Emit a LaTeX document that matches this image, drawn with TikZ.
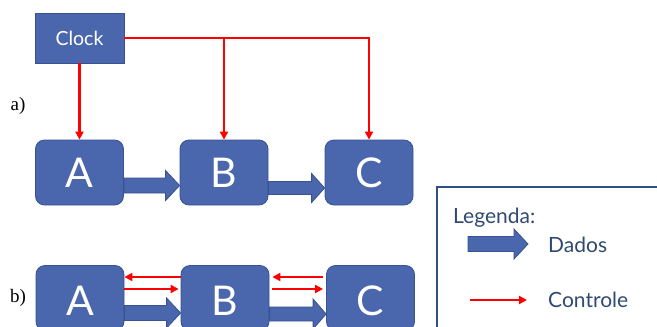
\documentclass[tikz,border=0pt]{standalone}
\usepackage{fontspec}
\setmainfont{Lato}
\newfontfamily\serifface{Liberation Serif}
\usetikzlibrary{arrows.meta,calc}
\definecolor{boxfill}{HTML}{4A66AC}
\definecolor{boxline}{HTML}{385293}
\definecolor{ctrl}{HTML}{FF0000}
\definecolor{legtext}{HTML}{2F4A72}
\definecolor{legline}{HTML}{2F4F80}
\tikzset{
  blk/.style={draw=boxline, fill=boxfill, line width=0.8pt, rounded corners=9pt,
    minimum width=88pt, minimum height=65pt, inner sep=0pt, text=white,
    font=\fontsize{41}{41}\selectfont},
  clockbox/.style={draw=boxline, fill=boxfill, line width=0.8pt,
    minimum width=89pt, minimum height=50pt, inner sep=0pt, text=white,
    font=\fontsize{19.5}{19.5}\selectfont},
  ctl/.style={draw=ctrl, line width=2.2pt, -{Triangle[length=8pt,width=8pt]}},
  dat/.style={draw=boxline, fill=boxfill, line width=0.8pt, line join=miter},
  lbl/.style={font=\serifface\fontsize{19}{19}\selectfont, inner sep=0pt},
  legtxt/.style={text=legtext, font=\fontsize{21}{21}\selectfont, inner sep=0pt, anchor=west}
}
% #1 from node, #2 to node, #3 centre y, #4 shaft half-height, #5 head half-height, #6 head length
\newcommand{\blockarr}[6]{%
  \draw[dat] (#1.east |- 0,#3-#4) -- ($(#2.west |- 0,#3-#4)+(-#6,0)$)
    -- ($(#2.west |- 0,#3-#5)+(-#6,0)$) -- (#2.west |- 0,#3)
    -- ($(#2.west |- 0,#3+#5)+(-#6,0)$) -- ($(#2.west |- 0,#3+#4)+(-#6,0)$)
    -- (#1.east |- 0,#3+#4) -- cycle;}
\begin{document}
\begin{tikzpicture}[x=1pt,y=-1pt]
\useasboundingbox[fill=white] (0,0) rectangle (657,327);

% part a
\node[clockbox] (clk) at (79.5,38) {Clock};
\node[blk] (A1) at (79.5,172.5) {A};
\node[blk] (B1) at (224,172.5) {B};
\node[blk] (C1) at (369,172.5) {C};
\node[lbl] (la) at (18,106) {a)};

\coordinate (jb) at (B1.north |- clk.east);
\coordinate (jc) at (C1.north |- clk.east);
\draw[ctl] (clk.south) -- (A1.north);
\draw[ctl] (clk.east) -- (jc) -- (C1.north);
\draw[ctl] (jb) -- (B1.north);

\blockarr{A1}{B1}{185.5}{7.5}{15}{14}
\blockarr{B1}{C1}{188}{6.5}{14.5}{13}

% part b
\node[blk] (A2) at (80,298) {};
\node[blk] (B2) at (225,298) {};
\node[blk] (C2) at (370.5,298) {};
\node[text=white, font=\fontsize{41}{41}\selectfont, inner sep=0pt] (tA) at (80,301) {A};
\node[text=white, font=\fontsize{41}{41}\selectfont, inner sep=0pt] (tB) at (225,301) {B};
\node[text=white, font=\fontsize{41}{41}\selectfont, inner sep=0pt] (tC) at (370.5,301) {C};
\node[lbl] (lb) at (18,298) {b)};

\draw[ctl] (B2.west |- 0,277) -- (A2.east |- 0,277);
\draw[ctl] (A2.east |- 0,289) -- ($(B2.west |- 0,289)+(-2,0)$);
\draw[ctl] ($(C2.west |- 0,277)+(-3,0)$) -- ($(B2.east |- 0,277)+(3,0)$);
\draw[ctl] ($(B2.east |- 0,289)+(3,0)$) -- ($(C2.west |- 0,289)+(-3,0)$);

\blockarr{A2}{B2}{313}{7.5}{15}{14}
\blockarr{B2}{C2}{314}{7}{15}{13}

% legend
\draw[legline, line width=1.1pt, fill=white] (437,187) rectangle (680,345);
\node[legtxt] (leg) at (453,218) {Legenda:};
\node[legtxt] (dados) at (548,245) {Dados};
\node[legtxt] (ctrltxt) at (548,300) {Controle};
\coordinate (d0) at (468,244);
\coordinate (d1) at (528,244);
\draw[dat] (d0) ++(0,-7.5) -- ++(46,0) -- ++(0,-7.5) -- (d1) -- ++(-14,15) -- ++(0,-7.5) -- ++(-46,0) -- cycle;
\coordinate (c0) at (470,300);
\coordinate (c1) at (527,300);
\draw[ctl] (c0) -- (c1);
\end{tikzpicture}
\end{document}
